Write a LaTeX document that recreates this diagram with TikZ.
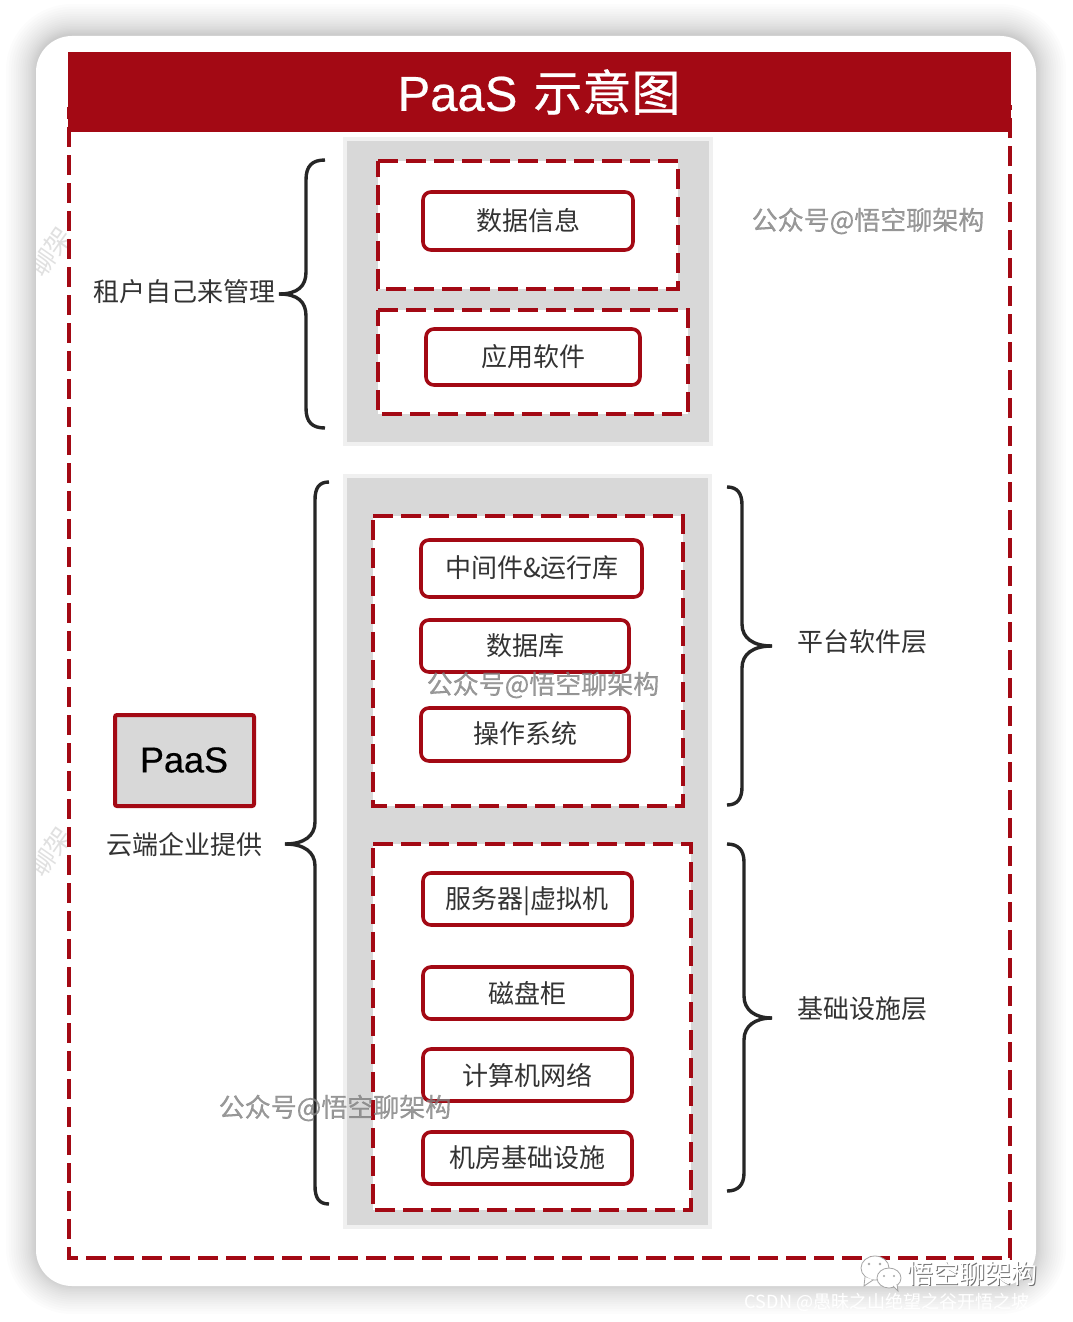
\documentclass[tikz,border=0pt]{standalone}
\usepackage{fontspec}
\setmainfont{Noto Sans CJK SC}
\newfontfamily\latinfont{Liberation Sans}
\newfontfamily\titlefont[FakeBold=0.5]{Noto Sans CJK SC}
\newfontfamily\markfont[FakeBold=0.6]{Noto Sans CJK SC}
\newfontfamily\boldlatin[FakeBold=0.5]{Liberation Sans}
\definecolor{paasred}{HTML}{A30914}
\definecolor{panelgray}{HTML}{D8D8D8}
\definecolor{inktext}{HTML}{333333}
\tikzset{
    softbox/.style={draw=paasred, line width=1.8pt, fill=white, rounded corners=4pt},
    dashbox/.style={draw=paasred, line width=2pt, fill=white, dash pattern=on 10pt off 4pt},
    panel/.style={draw=black!6, line width=2pt, fill=panelgray},
    bracket/.style={draw=black!85, line width=1.7pt},
    lbl/.style={font=\fontsize{13pt}{15pt}\selectfont, text=inktext, inner sep=0pt},
    wmark/.style={font=\markfont\fontsize{13pt}{15pt}\selectfont, text=black!50, inner sep=0pt, opacity=0.8},
    sidemark/.style={font=\fontsize{13pt}{15pt}\selectfont, text=black!12, inner sep=0pt, rotate=55},
    logobubble/.style={fill=white, draw=black!35, line width=0.4pt},
}
\begin{document}
\begin{tikzpicture}[x=0.5pt, y=-0.5pt]
    \useasboundingbox (0,0) rectangle (1072,1322);

    % Card and shadow
    \foreach \k in {1,...,18} {
        \pgfmathsetmacro{\grow}{30*pow(\k/18,1.6)}
        \fill[black, opacity=0.0115, rounded corners={18pt+\grow*0.5pt}]
            ({36-\grow},{34-\grow}) rectangle ({1036+\grow},{1284+\grow});
    }
    \fill[white, rounded corners=18pt] (36,36) rectangle (1036,1286);

    % Side marks under the outer frame
    \begin{scope}
        \clip (36,200) rectangle (68,900);
        \node[sidemark] (sideMarkA) at (50,252) {聊架};
        \node[sidemark] (sideMarkB) at (50,852) {聊架};
    \end{scope}

    % Outer frame and title
    \draw[dashbox, fill=none, dash phase=4pt] (69,107) |- (1010,1258) -- (1010,107) -- cycle;
    \fill[paasred] (68,52) rectangle (1011,132);
    \node[inner sep=0pt, text=white, font=\fontsize{24.5pt}{29pt}\selectfont] (titleText) at (539,92)
        {{\boldlatin PaaS}\hspace{8pt}{\titlefont 示意图}};

    % Tenant side
    \draw[panel] (345,139) rectangle (711,444);
    \draw[dashbox] (378,161) -| (678,289) -- (378,289) -- cycle;
    \draw[dashbox] (378,310) -| (688,414) -- (378,414) -- cycle;
    \draw[softbox] (423,192) rectangle (633,250);
    \node[lbl] (dataInfo) at (528,221) {数据信息};
    \draw[softbox] (426,329) rectangle (640,385);
    \node[lbl] (appSoft) at (533,357) {应用软件};

    % Cloud side
    \draw[panel] (345,476) rectangle (710,1227);

    % Platform layer
    \draw[dashbox] (373,516) -| (683,806) -- (373,806) -- cycle;
    \draw[softbox] (421,540) rectangle (642,597);
    \node[lbl] (middleware) at (532,568) {中间件\&运行库};
    \draw[softbox] (421,620) rectangle (629,672);
    \node[lbl] (database) at (525,646) {数据库};
    \draw[softbox] (421,708) rectangle (629,761);
    \node[lbl] (opSystem) at (525,734) {操作系统};

    % Infrastructure layer
    \draw[dashbox] (373,844) -| (691,1210) -- (373,1210) -- cycle;
    \draw[softbox] (423,873) rectangle (632,925);
    \node[lbl] (servers) at (527,901) {服务器|虚拟机};
    \draw[softbox] (423,967) rectangle (632,1019);
    \node[lbl] (diskRack) at (527,993) {磁盘柜};
    \draw[softbox] (423,1049) rectangle (632,1101);
    \node[lbl] (network) at (527,1075) {计算机网络};
    \draw[softbox] (423,1132) rectangle (632,1184);
    \node[lbl] (machineRoom) at (527,1158) {机房基础设施};

    % PaaS box
    \draw[draw=paasred, line width=2pt, fill=panelgray, rounded corners=1pt] (115,715) rectangle (254,806);
    \node[inner sep=0pt, font=\boldlatin\fontsize{18pt}{21pt}\selectfont] (paasText) at (184,760) {PaaS};

    % Side labels
    \node[lbl] (tenantLabel) at (184,292) {租户自己来管理};
    \node[lbl] (cloudLabel) at (184,845) {云端企业提供};
    \node[lbl] (platformLabel) at (862,642) {平台软件层};
    \node[lbl] (infraLabel) at (862,1009) {基础设施层};

    % Braces
    \coordinate (tenantTip) at (279,294);
    \coordinate (cloudTip) at (285,844);
    \coordinate (platformTip) at (772,646);
    \coordinate (infraTip) at (772,1018);
    \draw[bracket] (325,160) .. controls (312,160) and (306,166) .. (306,180) -- (306,272) .. controls (306,286) and (298,294) .. (tenantTip);
    \draw[bracket] (325,428) .. controls (312,428) and (306,422) .. (306,408) -- (306,316) .. controls (306,302) and (298,294) .. (tenantTip);
    \draw[bracket] (329,482) .. controls (319,482) and (315,488) .. (315,500) -- (315,822) .. controls (315,836) and (304,844) .. (cloudTip);
    \draw[bracket] (329,1204) .. controls (319,1204) and (315,1198) .. (315,1186) -- (315,866) .. controls (315,852) and (304,844) .. (cloudTip);
    \draw[bracket] (727,487) .. controls (737,487) and (742,493) .. (742,505) -- (742,624) .. controls (742,638) and (753,646) .. (platformTip);
    \draw[bracket] (727,805) .. controls (737,805) and (742,799) .. (742,787) -- (742,668) .. controls (742,654) and (753,646) .. (platformTip);
    \draw[bracket] (727,844) .. controls (738,844) and (744,850) .. (744,862) -- (744,996) .. controls (744,1010) and (755,1018) .. (infraTip);
    \draw[bracket] (727,1191) .. controls (738,1191) and (744,1185) .. (744,1173) -- (744,1040) .. controls (744,1026) and (755,1018) .. (infraTip);

    % Account marks
    \node[wmark] (markTop) at (868,221) {公众号@悟空聊架构};
    \node[wmark] (markMid) at (543,685) {公众号@悟空聊架构};
    \node[wmark] (markLow) at (335,1108) {公众号@悟空聊架构};

    % Bottom corner mark
    \draw[logobubble] (875,1268) ellipse (14 and 12);
    \draw[logobubble] (865,1277) -- (864,1286) -- (873,1280);
    \draw[logobubble] (889,1278) ellipse (12 and 10);
    \draw[logobubble] (893,1286) -- (898,1291) -- (897,1284);
    \fill[black!35] (869,1264) circle (1.3) (880,1264) circle (1.3) (884,1276) circle (1.2) (894,1276) circle (1.2);
    \node[inner sep=0pt, text=black!55, font=\fontsize{13pt}{15pt}\selectfont] (wechatShade) at (973,1275) {悟空聊架构};
    \node[inner sep=0pt, text=white, font=\fontsize{13pt}{15pt}\selectfont] (wechatName) at (972,1274) {悟空聊架构};
    \node[inner sep=0pt, text=white, font=\fontsize{9pt}{11pt}\selectfont] (csdnMark) at (887,1302)
        {CSDN @愚昧之山绝望之谷开悟之坡};
\end{tikzpicture}
\end{document}
